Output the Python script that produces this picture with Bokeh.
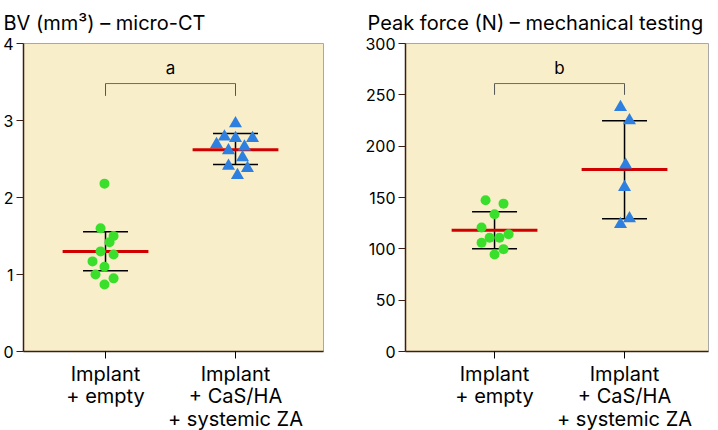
from bokeh.plotting import figure
from bokeh.layouts import row
from bokeh.models import Range1d, FixedTicker
from bokeh.core.properties import value
from bokeh.embed import file_html
from bokeh.resources import INLINE

# ---------------- data ----------------
categories = ["Implant\n+ empty", "Implant\n+ CaS/HA\n+ systemic ZA"]
cat_x = [1, 2]

panel_titles = ["BV (mm\u00b3) \u2013 micro-CT", "Peak force (N) \u2013 mechanical testing"]

# BV (mm3) - micro-CT
bv_empty = [2.18, 1.60, 1.50, 1.42, 1.30, 1.26, 1.17, 1.10, 1.00, 0.95, 0.87]
bv_empty_jit = [-0.008, -0.038, 0.062, 0.031, -0.038, 0.062, -0.100, -0.008, -0.077, 0.062, -0.008]
bv_zol = [2.96, 2.79, 2.77, 2.77, 2.69, 2.66, 2.61, 2.52, 2.41, 2.38, 2.29]
bv_zol_jit = [0.0, -0.085, 0.0, 0.131, -0.146, 0.069, -0.054, 0.054, -0.054, 0.092, 0.015]
bv_mean = [1.30, 2.62]
bv_sd_hi = [1.555, 2.83]
bv_sd_lo = [1.05, 2.43]
bv_ticks = [0, 1, 2, 3, 4]

# Peak force (N) - mechanical testing
pf_empty = [147.4, 144.0, 133.7, 120.8, 114.3, 110.8, 110.8, 106.0, 99.7, 94.5]
pf_empty_jit = [-0.069, 0.069, 0.0, -0.100, 0.108, -0.038, 0.038, -0.100, 0.069, 0.0]
pf_zol = [238.0, 225.0, 182.0, 160.0, 124.0, 129.5]
pf_zol_jit = [-0.031, 0.038, 0.008, 0.0, -0.031, 0.038]
pf_mean = [118.2, 177.3]
pf_sd_hi = [136.0, 224.7]
pf_sd_lo = [100.0, 129.2]
pf_ticks = [0, 50, 100, 150, 200, 250, 300]

sig_labels = ["a", "b"]
sig_bar_y = [3.48, 261.0]
sig_drop_y = [3.32, 250.0]
sig_text_y = [3.68, 276.0]

# ---------------- style ----------------
FONT = "Inter"
BG = "#F8EEC9"
AXIS_COL = "#3a1f12"
GREEN = "#3ADF2C"
BLUE = "#2D7FE0"
RED = "#D00000"


def make_panel(title, yticks, ymax, grp1, jit1, grp2, jit2, mean, hi, lo,
               sig, bar_y, drop_y, text_y, xr, bl, br, fw, toff):
    p = figure(frame_width=fw, frame_height=308, output_backend="svg",
               toolbar_location=None, x_range=Range1d(*xr), y_range=Range1d(0, ymax),
               min_border_left=bl, min_border_right=br, min_border_top=0,
               min_border_bottom=0, background_fill_color=BG,
               border_fill_color="white", outline_line_color="#a8a8a8",
               title=title)
    p.title.text_font = FONT
    p.title.text_font_size = "20px"
    p.title.text_font_style = "normal"
    p.title.align = "left"
    p.title.offset = toff
    p.title.standoff = 17
    p.title.text_color = "black"
    p.grid.visible = False

    # axes
    p.xaxis.ticker = FixedTicker(ticks=cat_x)
    p.xaxis.major_label_overrides = {cat_x[0]: categories[0], cat_x[1]: categories[1]}
    p.xaxis.major_label_text_font = FONT
    p.xaxis.major_label_text_font_size = "20px"
    p.xaxis.major_label_text_line_height = 0.95
    p.xaxis.major_label_text_color = "black"
    p.xaxis.major_label_standoff = 3
    p.xaxis.major_tick_out = 7
    p.xaxis.major_tick_in = 0
    p.xaxis.minor_tick_line_color = None
    p.xaxis.major_tick_line_color = "black"
    p.xaxis.axis_line_color = AXIS_COL
    p.xaxis.axis_line_width = 1.5

    p.yaxis.ticker = FixedTicker(ticks=yticks)
    p.yaxis.major_label_text_font = FONT
    p.yaxis.major_label_text_font_size = "16px"
    p.yaxis.major_label_text_color = "black"
    p.yaxis.major_label_standoff = 3
    p.yaxis.major_tick_out = 7
    p.yaxis.major_tick_in = 0
    p.yaxis.minor_tick_line_color = None
    p.yaxis.major_tick_line_color = AXIS_COL
    p.yaxis.axis_line_color = AXIS_COL
    p.yaxis.axis_line_width = 1.5

    # significance bracket
    p.segment(x0=[cat_x[0]], y0=[bar_y], x1=[cat_x[1]], y1=[bar_y],
              line_color="#A5574A", line_width=1)
    p.segment(x0=cat_x, y0=[bar_y, bar_y], x1=cat_x, y1=[drop_y, drop_y],
              line_color="#555555", line_width=1)
    p.text(x=[(cat_x[0] + cat_x[1]) / 2], y=[text_y], text=[sig],
           text_font=value(FONT), text_font_size="17px", text_align="center",
           text_baseline="middle", text_color="black")

    # error bars (SD) and means
    p.segment(x0=cat_x, y0=lo, x1=cat_x, y1=hi, line_color="black", line_width=1.5)
    p.segment(x0=[c - 0.173 for c in cat_x], y0=hi, x1=[c + 0.173 for c in cat_x], y1=hi,
              line_color="black", line_width=1.5)
    p.segment(x0=[c - 0.173 for c in cat_x], y0=lo, x1=[c + 0.173 for c in cat_x], y1=lo,
              line_color="black", line_width=1.5)
    p.segment(x0=[c - 0.33 for c in cat_x], y0=mean, x1=[c + 0.33 for c in cat_x], y1=mean,
              line_color=RED, line_width=3)

    # data points
    p.scatter(x=[cat_x[0] + j for j in jit1], y=grp1, marker="circle", size=10,
              fill_color=GREEN, line_color=None)
    p.scatter(x=[cat_x[1] + j for j in jit2], y=grp2, marker="triangle", size=13,
              fill_color=BLUE, line_color=None)
    return p


left = make_panel(panel_titles[0], bv_ticks, 4, bv_empty, bv_empty_jit, bv_zol, bv_zol_jit,
                  bv_mean, bv_sd_hi, bv_sd_lo, sig_labels[0], sig_bar_y[0], sig_drop_y[0],
                  sig_text_y[0], (0.369, 2.677), 20, 32, 300, -20)
right = make_panel(panel_titles[1], pf_ticks, 300, pf_empty, pf_empty_jit, pf_zol, pf_zol_jit,
                   pf_mean, pf_sd_hi, pf_sd_lo, sig_labels[1], sig_bar_y[1], sig_drop_y[1],
                   sig_text_y[1], (0.315, 2.646), 50, 2, 303, -38)

layout = row(left, right)
open("out.html", "w").write(file_html(layout, INLINE))
